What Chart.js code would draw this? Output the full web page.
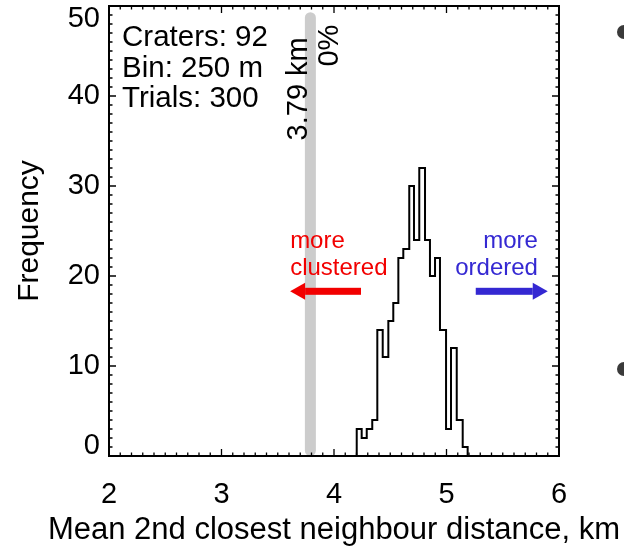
<!DOCTYPE html>
<html>
<head>
<meta charset="utf-8">
<script src="https://cdn.jsdelivr.net/npm/chart.js@4"></script>
<style>
  html, body { margin: 0; padding: 0; background: #fff; }
  #wrap { width: 624px; height: 550px; }
</style>
</head>
<body>
<div id="wrap"><canvas id="c" width="624" height="550"></canvas></div>
<script>
// histogram of simulated mean distances (300 trials)
const binEdges = [4.202, 4.246, 4.291, 4.340, 4.385, 4.433, 4.483, 4.527, 4.572, 4.616, 4.669,
                  4.711, 4.758, 4.809, 4.853, 4.898, 4.942, 4.996, 5.040, 5.091, 5.144, 5.188];
const binCounts = [3, 2, 3, 4, 14, 11, 15, 17, 22, 23, 30, 24, 32, 24, 20, 22, 14, 3, 12, 4, 1];

// observed value (grey bar)
const observedKm = 3.79;
const observedSpan = [0.6, 48.7];
const observedLabels = ['3.79 km', '0%'];

const statLines = ['Craters: 92', 'Bin: 250 m', 'Trials: 300'];

const xTicks = [2, 3, 4, 5, 6];
const yTicks = [0, 10, 20, 30, 40, 50];
const xTitle = 'Mean 2nd closest neighbour distance, km';

// arrows: [from, to] in km, at height arrowY
const arrowY = 18.3;
const redArrow = [4.24, 3.61];
const blueArrow = [5.26, 5.90];
const redText = ['more', 'clustered'];
const blueText = ['more', 'ordered'];

const FONT = '"Liberation Sans", Arial, Helvetica, sans-serif';
const RED = '#f20000';
const BLUE = '#3428d2';

let histPoints = [{x: binEdges[0], y: 0}];
binCounts.forEach((c, i) => {
  histPoints.push({x: binEdges[i], y: c});
  histPoints.push({x: binEdges[i + 1], y: c});
});
histPoints.push({x: binEdges[binEdges.length - 1], y: 0});

function arrow(ctx, x0, x1, y, col) {
  let dir = x1 > x0 ? 1 : -1;
  let head = 15;
  ctx.fillStyle = col;
  ctx.fillRect(Math.min(x0, x1 - dir * head), y - 3.5, Math.abs(x1 - x0) - head, 7);
  ctx.beginPath();
  ctx.moveTo(x1, y);
  ctx.lineTo(x1 - dir * head, y - 8.5);
  ctx.lineTo(x1 - dir * head, y + 8.5);
  ctx.closePath();
  ctx.fill();
}

const decor = {
  id: 'decor',
  afterDatasetsDraw(chart) {
    const ctx = chart.ctx;
    const a = chart.chartArea;
    const xs = chart.scales.x, ys = chart.scales.y;
    ctx.save();

    // frame
    ctx.strokeStyle = '#000';
    ctx.lineWidth = 2;
    ctx.strokeRect(a.left, a.top, a.right - a.left, a.bottom - a.top);

    // inward ticks on all four sides
    ctx.lineWidth = 1.3;
    ctx.beginPath();
    for (let v = 20; v <= 60; v++) {
      let px = xs.getPixelForValue(v / 10);
      let len = v % 10 === 0 ? 7 : 3.5;
      ctx.moveTo(px, a.bottom); ctx.lineTo(px, a.bottom - len);
      ctx.moveTo(px, a.top); ctx.lineTo(px, a.top + len);
    }
    for (let v = 0; v <= 50; v++) {
      let py = ys.getPixelForValue(v);
      let len = v % 10 === 0 ? 7 : 3.5;
      ctx.moveTo(a.left, py); ctx.lineTo(a.left + len, py);
      ctx.moveTo(a.right, py); ctx.lineTo(a.right - len, py);
    }
    ctx.stroke();

    // y tick labels (end labels pulled inside the axis like IDL does)
    ctx.fillStyle = '#000';
    ctx.font = '29px ' + FONT;
    ctx.textAlign = 'right';
    ctx.textBaseline = 'middle';
    yTicks.forEach(v => {
      let py = Math.min(Math.max(ys.getPixelForValue(v), a.top + 13), a.bottom - 10);
      ctx.fillText(String(v), a.left - 9, py);
    });

    // x axis title (drawn here so it is not squeezed to the axis width)
    ctx.font = '31px ' + FONT;
    ctx.textAlign = 'center';
    ctx.fillText(xTitle, (a.left + a.right) / 2, 530);

    // stats block
    ctx.font = '29.5px ' + FONT;
    ctx.textAlign = 'left';
    ctx.textBaseline = 'alphabetic';
    statLines.forEach((s, i) => ctx.fillText(s, a.left + 13, a.top + 40 + i * 30.5));

    // rotated labels next to the grey bar
    ctx.font = '29px ' + FONT;
    let bx = xs.getPixelForValue(observedKm);
    ctx.textAlign = 'center';
    [[observedLabels[0], bx - 3, ys.getPixelForValue(40.8)],
     [observedLabels[1], bx + 28, ys.getPixelForValue(45.6)]].forEach(t => {
      ctx.save();
      ctx.translate(t[1], t[2]);
      ctx.rotate(-Math.PI / 2);
      ctx.fillText(t[0], 0, 0);
      ctx.restore();
    });

    // direction arrows and their labels
    let ay = ys.getPixelForValue(arrowY);
    arrow(ctx, xs.getPixelForValue(redArrow[0]), xs.getPixelForValue(redArrow[1]), ay, RED);
    arrow(ctx, xs.getPixelForValue(blueArrow[0]), xs.getPixelForValue(blueArrow[1]), ay, BLUE);
    ctx.font = '24px ' + FONT;
    ctx.fillStyle = RED;
    ctx.textAlign = 'left';
    redText.forEach((s, i) => ctx.fillText(s, xs.getPixelForValue(redArrow[1]), ay - 43 + i * 27));
    ctx.fillStyle = BLUE;
    ctx.textAlign = 'right';
    blueText.forEach((s, i) => ctx.fillText(s, xs.getPixelForValue(5.813), ay - 43 + i * 27));

    // page dots cut by the right edge
    ctx.fillStyle = '#3a3a3a';
    [32, 369].forEach(y => {
      ctx.beginPath();
      ctx.arc(chart.width, y, 7, 0, Math.PI * 2);
      ctx.fill();
    });
    ctx.restore();
  }
};

new Chart(document.getElementById('c'), {
  type: 'line',
  data: {
    datasets: [
      {
        data: histPoints,
        borderColor: '#000',
        borderWidth: 2,
        pointRadius: 0,
        fill: false,
        tension: 0
      },
      {
        data: [{x: observedKm, y: observedSpan[0]}, {x: observedKm, y: observedSpan[1]}],
        borderColor: '#cccccc',
        borderWidth: 11,
        borderCapStyle: 'round',
        pointRadius: 0
      }
    ]
  },
  options: {
    responsive: false,
    animation: false,
    events: [],
    layout: { padding: { top: 6, right: 65, bottom: 0, left: 0 } },
    plugins: { legend: { display: false }, tooltip: { enabled: false } },
    scales: {
      x: {
        type: 'linear',
        min: 2, max: 6,
        afterBuildTicks: s => { s.ticks = xTicks.map(v => ({value: v})); },
        afterFit: s => { s.height = 94; },
        grid: { display: false, drawTicks: false, tickLength: 0 },
        border: { display: false },
        ticks: { color: '#000', font: { size: 29, family: FONT }, padding: 22, maxRotation: 0 },
        title: { display: false }
      },
      y: {
        type: 'linear',
        min: 0, max: 50,
        afterFit: s => { s.width = 109; },
        grid: { display: false, drawTicks: false, tickLength: 0 },
        border: { display: false },
        ticks: { display: false },
        title: {
          display: true,
          text: 'Frequency',
          color: '#000',
          font: { size: 30, family: FONT },
          padding: { top: 12, bottom: 0 }
        }
      }
    }
  },
  plugins: [decor]
});
</script>
</body>
</html>
